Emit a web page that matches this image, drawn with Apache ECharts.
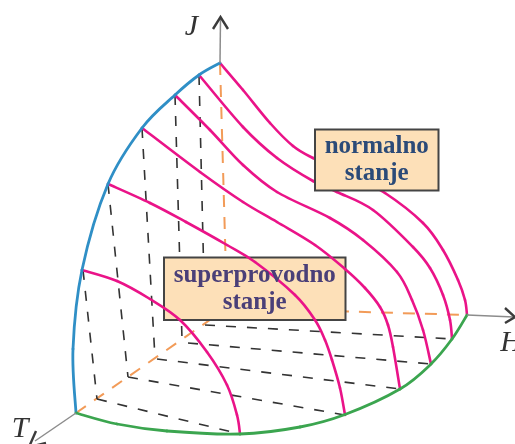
<!DOCTYPE html>
<html>
<head>
<meta charset="utf-8">
<style>html,body{margin:0;padding:0;background:#fff}#c{width:515px;height:444px}</style>
<script src="https://cdn.jsdelivr.net/npm/echarts@6/dist/echarts.min.js"></script>
</head>
<body>
<div id="c"></div>
<script>
// Boundary curves of the critical surface (H/T/J projected onto the page plane)
const blueEdge = [[76,413],[73,349],[82,270],[108,184],[142,128],[175,95],[199,75],[220,63]];
const greenEdge = [[76,413],[117,424],[167,431],[240,434],[300,427],[345,414.5],[400,389],[431,364],[452,339],[467,315]];

// Critical-field curves, one per temperature
const pink1 = [[82,270],[117,281],[150,299],[180,320],[207,352],[227,385],[237,415],[240,434]];
const pink2 = [[108,184],[150,203],[186,222],[227,245],[255,262],[295,295],[315,320],[325,340],[332,360],[340,388],[345,415]];
const pink3 = [[142,128],[200,172],[243,202],[277,222],[315,245],[345,269],[365,288],[380,307],[388,325],[393,347],[400,389]];
const pink4 = [[175,95],[210,130],[243,165],[277,192],[330,218],[363,240],[397,272],[412,300],[423,330],[431,364]];
const pink5 = [[199,75],[243,127],[277,158],[313,181],[337,192],[373,210],[413,247],[430,268],[443,295],[450,320],[452,339]];
const pink6 = [[220,63],[243,90],[270,123],[293,146],[313,158],[350,175],[385,193],[423,223],[443,250],[458,280],[465,300],[467,315]];

// Dashed construction lines
const wallDashes = [
  [[83,270],[97,399]],
  [[108,184],[128,377]],
  [[142,128],[155,358]],
  [[175,95],[182,339]],
  [[199,75],[205,323]]
];
const floorDashes = [
  [[97,399],[240,434]],
  [[128,377],[345,415]],
  [[157,359],[400,389]],
  [[188,343],[431,364]],
  [[205,325],[452,339]]
];
const orangeDashes = [
  [[220,63],[227,308]],
  [[76,413],[227,308]],
  [[227,308],[467,315]]
];

// Axes with arrowheads
const axisShafts = [
  [[220,63],[220.5,18]],
  [[467,315],[514,317]],
  [[76,413],[35,441]]
];
const axisHeads = [
  [[213,29],[220.5,17],[228,29]],
  [[505,308],[515,317],[505,323]],
  [[36,431],[29,447],[46,443]]
];
const axisNames = ['J','H','T'];
const axisNameAt = [[191.5,27],[511,343],[20,429]];

// Text boxes: [left, top, right, bottom]
const boxNormal = [315,129.5,438.5,190.5];
const boxSuper = [164,257.5,345.5,320];
const textNormal = 'normalno\nstanje';
const textSuper = 'superprovodno\nstanje';

const DARK = '#3b3b3b', PINK = '#ea1388', ORANGE = '#f0893b';

function lineSeries(data, color, width, z, type, opacity) {
  return {
    type: 'line', data: data, z: z, silent: true, showSymbol: false, symbol: 'none',
    clip: true, smooth: false, animation: false,
    lineStyle: { color: color, width: width, type: type || 'solid', opacity: opacity == null ? 1 : opacity, cap: 'butt', join: 'miter' }
  };
}
// Smooth spline through the points, placed through the axes
function curve(data, color, width, z) {
  return {
    type: 'custom', z: z, silent: true, animation: false, clip: true,
    data: [[data[0][0], data[0][1]]],
    encode: { x: 0, y: 1 },
    renderItem: function (p, api) {
      const q = data.map(function (d) { return api.coord(d); });
      const children = [];
      for (let i = 0; i < q.length - 1; i++) {
        const p0 = q[Math.max(i - 1, 0)], p1 = q[i], p2 = q[i + 1], p3 = q[Math.min(i + 2, q.length - 1)];
        children.push({ type: 'bezierCurve', shape: {
            x1: p1[0], y1: p1[1], x2: p2[0], y2: p2[1],
            cpx1: p1[0] + (p2[0] - p0[0]) / 6, cpy1: p1[1] + (p2[1] - p0[1]) / 6,
            cpx2: p2[0] - (p3[0] - p1[0]) / 6, cpy2: p2[1] - (p3[1] - p1[1]) / 6
          },
          style: { fill: null, stroke: color, lineWidth: width, lineCap: 'round' } });
      }
      return { type: 'group', children: children };
    }
  };
}
function box(rect, z) {
  return {
    type: 'custom', z: z, silent: true, animation: false, clip: false,
    data: [rect], encode: { x: [0, 2], y: [1, 3] },
    renderItem: function (p, api) {
      const a = api.coord([api.value(0), api.value(1)]);
      const b = api.coord([api.value(2), api.value(3)]);
      return { type: 'rect', shape: { x: a[0], y: a[1], width: b[0] - a[0], height: b[1] - a[1] },
        style: { fill: '#fde0b8', stroke: '#444444', lineWidth: 2 } };
    }
  };
}
function boxText(rect, text, color) {
  return {
    type: 'custom', z: 10, silent: true, animation: false, clip: false,
    data: [[(rect[0] + rect[2]) / 2, (rect[1] + rect[3]) / 2]],
    renderItem: function (p, api) {
      const a = api.coord([api.value(0), api.value(1)]);
      return { type: 'text', x: a[0], y: a[1],
        style: { text: text, fill: color, font: 'bold 25px "Liberation Serif"', lineHeight: 27, align: 'center', verticalAlign: 'middle' } };
    }
  };
}
function axisLabels() {
  return {
    type: 'custom', z: 10, silent: true, animation: false, clip: false,
    data: axisNameAt.map(function (p, i) { return [p[0], p[1], i]; }),
    renderItem: function (p, api) {
      const a = api.coord([api.value(0), api.value(1)]);
      return { type: 'text', x: a[0], y: a[1],
        style: { text: axisNames[api.value(2)], fill: '#333333', font: 'italic 30px "Liberation Serif"', align: 'center', verticalAlign: 'middle' } };
    }
  };
}

const series = [];
orangeDashes.forEach(function (d) { series.push(lineSeries(d, ORANGE, 2, 1, [12, 10], 0.85)); });
wallDashes.concat(floorDashes).forEach(function (d) { series.push(lineSeries(d, '#333333', 1.6, 1, [10, 11])); });
series.push(box(boxSuper, 2));
[pink1, pink2, pink3, pink4, pink5, pink6].forEach(function (d) { series.push(curve(d, PINK, 2.6, 3)); });
series.push(curve(blueEdge, '#2f8fc6', 2.8, 4));
series.push(curve(greenEdge, '#3ba54f', 2.8, 4));
axisShafts.forEach(function (d) { series.push(lineSeries(d, '#8c8c8c', 1.5, 4)); });
axisHeads.forEach(function (d) { series.push(lineSeries(d, DARK, 2.4, 5)); });
series.push(box(boxNormal, 6));
series.push(boxText(boxNormal, textNormal, '#2b4a78'));
series.push(boxText(boxSuper, textSuper, '#4a3f78'));
series.push(axisLabels());

const chart = echarts.init(document.getElementById('c'), null, { renderer: 'canvas' });
chart.setOption({
  animation: false,
  backgroundColor: '#ffffff',
  grid: { left: 0, right: 0, top: 0, bottom: 0 },
  xAxis: { type: 'value', min: 0, max: 515, show: false },
  yAxis: { type: 'value', min: 0, max: 444, inverse: true, show: false },
  series: series
});
</script>
</body>
</html>
